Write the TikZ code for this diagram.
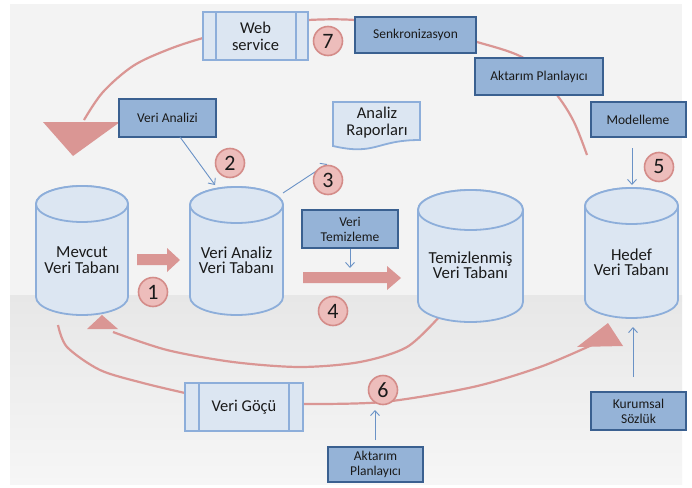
\documentclass[tikz,border=0pt]{standalone}
\usepackage{fontspec}
\setmainfont{Carlito}
\usetikzlibrary{arrows.meta}
\definecolor{panelc}{HTML}{F3F3F3}
\definecolor{bandtop}{HTML}{E7E7E7}
\definecolor{bandbot}{HTML}{F6F6F6}
\definecolor{redc}{HTML}{DA9694}
\definecolor{numfill}{HTML}{EDBDBB}
\definecolor{numedge}{HTML}{D48C89}
\definecolor{darkfill}{HTML}{95B3D7}
\definecolor{darkedge}{HTML}{3A6090}
\definecolor{lightfill}{HTML}{DCE6F2}
\definecolor{lightedge}{HTML}{8DAEDA}
\definecolor{arrowc}{HTML}{6A92C6}
\definecolor{txt}{HTML}{1A1A1A}
\newcommand\dbcyl[5]{%
  \path[dbbody] (#1-#3,#2) -- (#1-#3,#4) arc[start angle=180,end angle=360,x radius=#3pt,y radius=#5pt]
     -- (#1+#3,#2) arc[start angle=0,end angle=180,x radius=#3pt,y radius=#5pt] -- cycle;
  \draw[dbbody] (#1,#2) ellipse[x radius=#3pt,y radius=#5pt];}
\begin{document}
\begin{tikzpicture}[x=1pt,y=-1pt,
  darkbox/.style={draw=darkedge, fill=darkfill, line width=2pt, inner sep=0pt, align=center, text=txt, font=\fontsize{13.5}{15}\selectfont},
  lightbox/.style={draw=lightedge, fill=lightfill, line width=1.8pt, inner sep=0pt, align=center, text=txt, font=\fontsize{16.5}{17}\selectfont},
  dbtext/.style={align=center, text=txt, font=\fontsize{16.8}{15.5}\selectfont, inner sep=0pt},
  dbbody/.style={fill=lightfill, draw=lightedge, line width=1.8pt},
  numc/.style={circle, fill=numfill, draw=numedge, line width=1.6pt, minimum size=29pt, inner sep=0pt, text=txt, font=\fontsize{22}{22}\selectfont},
  redline/.style={draw=redc, line width=2.2pt},
  thinarrow/.style={draw=arrowc, line width=0.9pt, -{Straight Barb[length=5pt,width=9pt]}},
]
\useasboundingbox (0,0) rectangle (692,487);
\fill[white] (0,0) rectangle (692,487);
\fill[panelc] (10,4) rectangle (682,484);
\shade[top color=bandtop, bottom color=bandbot] (10,295) rectangle (682,484);

% red curves
\draw[redline] plot[smooth, tension=0.55] coordinates {(587,155) (574,122) (557,95) (527,60) (477,42) (415,27) (355,20) (308,20) (255,25) (203,38) (167,50) (133,66) (103,92) (84,120)};
\fill[redc] (43,122) -- (120,122) -- (73,156) -- cycle;
\draw[redline] plot[smooth] coordinates {(58,325) (67,347) (100,370) (143,383) (185,393)};
\draw[redline] plot[smooth] coordinates {(303,404) (383,402) (473,387) (540,367) (592,345)};
\fill[redc] (577,347) -- (608,323) -- (623,346) -- cycle;
\draw[redline] plot[smooth] coordinates {(440,316) (407,347) (360,362) (300,367) (233,362) (167,350) (113,332)};
\fill[redc] (87,329) -- (102,315) -- (118,329) -- cycle;

% cylinders
\dbcyl{82}{204}{46}{297}{18}
\dbcyl{236.5}{205}{46.5}{297}{18}
\dbcyl{470.5}{210}{52.5}{302}{20}
\dbcyl{631.5}{206}{46.5}{300}{18}
\node[dbtext] (mv) at (82,260) {Mevcut\\Veri Tabanı};
\node[dbtext] (vadb) at (236.5,260) {Veri Analiz\\Veri Tabanı};
\node[dbtext] (tzdb) at (470.5,265) {Temizlenmiş\\Veri Tabanı};
\node[dbtext] (hddb) at (631.5,262) {Hedef\\Veri Tabanı};

% fat arrows
\fill[redc] (137,254) -- (167,254) -- (167,248) -- (180,260) -- (167,272) -- (167,265) -- (137,265) -- cycle;
\fill[redc] (303,272) -- (387,272) -- (387,266) -- (401,278) -- (387,290) -- (387,283) -- (303,283) -- cycle;

% document shape
\path[dbbody] (333,102) -- (420,102) -- (420,140) .. controls (376,140) and (376,156) .. (333,146) -- cycle;
\node[dbtext, font=\fontsize{16.5}{17}\selectfont] (ar) at (377,123) {Analiz\\Raporları};

% boxes
\node[lightbox, minimum width=105pt, minimum height=48pt] (ws) at (255.5,36) {Web\\service};
\draw[lightedge, line width=1.8pt] ([xshift=14pt]ws.north west) -- ([xshift=14pt]ws.south west);
\draw[lightedge, line width=1.8pt] ([xshift=-13pt]ws.north east) -- ([xshift=-13pt]ws.south east);
\node[lightbox, minimum width=118pt, minimum height=48pt] (vg) at (244,407) {Veri Göçü};
\draw[lightedge, line width=1.8pt] ([xshift=15pt]vg.north west) -- ([xshift=15pt]vg.south west);
\draw[lightedge, line width=1.8pt] ([xshift=-15pt]vg.north east) -- ([xshift=-15pt]vg.south east);

\node[darkbox, minimum width=121pt, minimum height=36pt] (sk) at (415.5,35) {Senkronizasyon};
\node[darkbox, minimum width=128pt, minimum height=37pt] (ap1) at (539,76.5) {Aktarım Planlayıcı};
\node[darkbox, minimum width=95pt, minimum height=35pt] (md) at (638,119.5) {Modelleme};
\node[darkbox, minimum width=97pt, minimum height=38pt] (vaz) at (167.5,118) {Veri Analizi};
\node[darkbox, minimum width=96pt, minimum height=38pt] (vt) at (350,229) {Veri\\Temizleme};
\node[darkbox, minimum width=95pt, minimum height=38pt] (ks) at (638.5,411) {Kurumsal\\Sözlük};
\node[darkbox, minimum width=95pt, minimum height=35pt] (ap2) at (375.5,464.5) {Aktarım\\Planlayıcı};

% thin arrows
\coordinate (a2s) at (180,137); \coordinate (a2e) at (215,185);
\coordinate (a3s) at (283,193); \coordinate (a3e) at (327,164);
\coordinate (a4e) at (350,268);
\coordinate (a5s) at (632,148); \coordinate (a5e) at (632,185);
\coordinate (aks) at (633,377); \coordinate (ake) at (633,327);
\coordinate (a6s) at (375,440); \coordinate (a6e) at (375,410);
\draw[thinarrow] (a2s) -- (a2e);
\draw[thinarrow] (a3s) -- (a3e);
\draw[thinarrow] (vt.south) -- (a4e);
\draw[thinarrow] (a5s) -- (a5e);
\draw[thinarrow] (aks) -- (ake);
\draw[thinarrow] (a6s) -- (a6e);

% numbers
\node[numc] (n7) at (328,41) {7};
\node[numc] (n2) at (230,163) {2};
\node[numc] (n3) at (328,180) {3};
\node[numc] (n1) at (153,292) {1};
\node[numc] (n4) at (333,311) {4};
\node[numc] (n5) at (659,167) {5};
\node[numc] (n6) at (383,390) {6};
\end{tikzpicture}
\end{document}
